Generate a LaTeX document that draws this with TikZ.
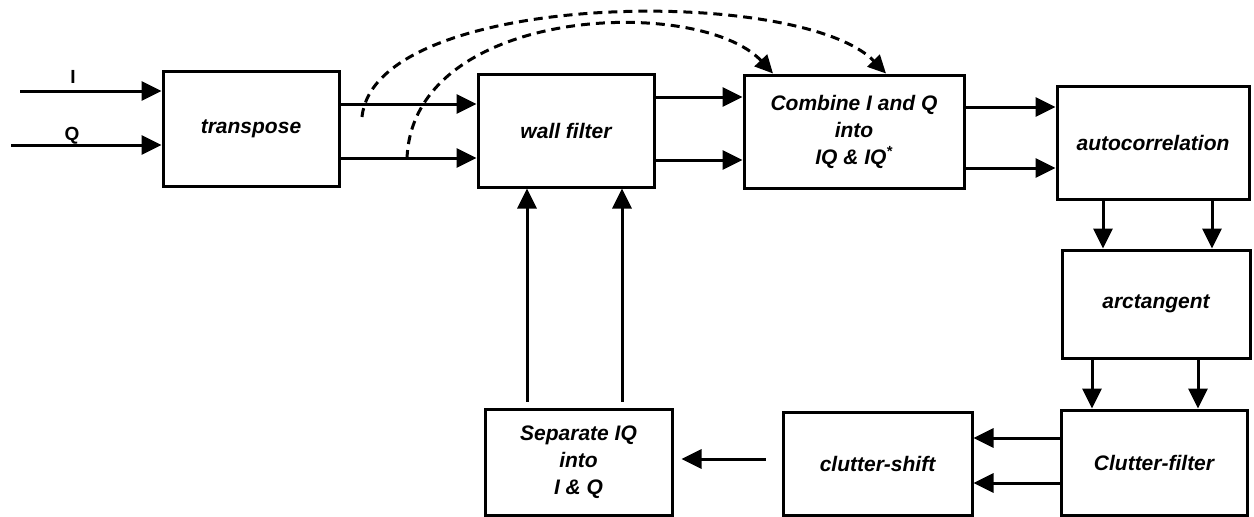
\documentclass[tikz,border=0pt]{standalone}
\usepackage{fontspec}
\setmainfont{Liberation Sans}
\usetikzlibrary{arrows.meta,calc}
\newcommand{\bxfont}{\fontsize{21}{27}\selectfont\bfseries\itshape}
\begin{document}
\begin{tikzpicture}[x=1pt,y=-1pt,
  box/.style={draw,line width=3pt,inner sep=0pt,align=center,font=\bxfont},
  arr/.style={line width=3pt,-{Triangle[length=20pt,width=19pt]}},
  dsh/.style={line width=3pt,dash pattern=on 9pt off 6pt,-{Triangle[length=18pt,width=17pt]}},
  lbl/.style={font=\fontsize{19}{21}\selectfont\bfseries,inner sep=0pt}]
\useasboundingbox (0,0) rectangle (1254,517);

% boxes
\node[box,minimum width=176pt,minimum height=115pt] (transpose) at (251,128.5) {transpose};
\node[box,minimum width=176pt,minimum height=113pt] (wall) at (566,130.5) {wall filter};
\node[box,minimum width=220pt,minimum height=113pt] (combine) at (854,131.5) {Combine I and Q\\into\\IQ \& IQ\textsuperscript{*}};
\node[box,minimum width=192pt,minimum height=113pt] (autocorr) at (1153,142.5) {autocorrelation};
\node[box,minimum width=188pt,minimum height=108pt] (arctan) at (1156,304) {arctangent};
\node[box,minimum width=186pt,minimum height=105pt] (clutter) at (1154,462.5) {Clutter-filter};
\node[box,minimum width=189pt,minimum height=103pt] (shift) at (877.5,463.5) {clutter-shift};
\node[box,minimum width=187pt,minimum height=106pt] (separate) at (578.5,462) {Separate IQ\\into\\I \& Q};

% labels
\node[lbl] (ilab) at (73,77) {I};
\node[lbl] (qlab) at (72,136) {Q};

% helper coordinates
\coordinate (iin) at (20,91);
\coordinate (qin) at (11,145);
\coordinate (ya) at (0,104);
\coordinate (yb) at (0,158);
\coordinate (yc) at (0,97);
\coordinate (yd) at (0,160);
\coordinate (ye) at (0,107);
\coordinate (yf) at (0,168);
\coordinate (yg) at (0,438);
\coordinate (yh) at (0,483);
\coordinate (yi) at (0,459);
\coordinate (xa) at (1103,0);
\coordinate (xb) at (1212,0);
\coordinate (xc) at (1092,0);
\coordinate (xd) at (1198,0);
\coordinate (xe) at (527,0);
\coordinate (xf) at (622,0);
\coordinate (xg) at (886,0);
\coordinate (xh) at (773,0);
\coordinate (d1s) at (362,117);
\coordinate (d2s) at (407,159);

% inputs
\draw[arr] (iin) -- (iin -| transpose.west);
\draw[arr] (qin) -- (qin -| transpose.west);

% transpose -> wall filter
\draw[arr] (transpose.east |- ya) -- (wall.west |- ya);
\draw[arr] (transpose.east |- yb) -- (wall.west |- yb);

% wall filter -> combine
\draw[arr] (wall.east |- yc) -- (combine.west |- yc);
\draw[arr] (wall.east |- yd) -- (combine.west |- yd);

% combine -> autocorrelation
\draw[arr] (combine.east |- ye) -- (autocorr.west |- ye);
\draw[arr] (combine.east |- yf) -- (autocorr.west |- yf);

% autocorrelation -> arctangent
\draw[arr] (autocorr.south -| xa) -- (arctan.north -| xa);
\draw[arr] (autocorr.south -| xb) -- (arctan.north -| xb);

% arctangent -> clutter-filter
\draw[arr] (arctan.south -| xc) -- (clutter.north -| xc);
\draw[arr] (arctan.south -| xd) -- (clutter.north -| xd);

% clutter-filter -> clutter-shift
\draw[arr] (clutter.west |- yg) -- (shift.east |- yg);
\draw[arr] (clutter.west |- yh) -- (shift.east |- yh);

% clutter-shift -> separate
\draw[arr,shorten <=16pt,shorten >=8pt] (shift.west |- yi) -- (separate.east |- yi);

% separate -> wall filter
\draw[arr,shorten <=6pt] (separate.north -| xe) -- (wall.south -| xe);
\draw[arr,shorten <=6pt] (separate.north -| xf) -- (wall.south -| xf);

% dashed feed-forward
\draw[dsh] (d1s) .. controls (375,-10) and (800,-15) .. (combine.north -| xg);
\draw[dsh] (d2s) .. controls (412,5) and (700,-5) .. (combine.north -| xh);
\end{tikzpicture}
\end{document}
